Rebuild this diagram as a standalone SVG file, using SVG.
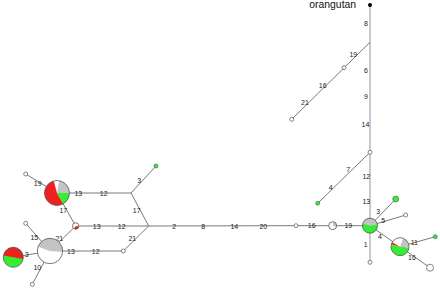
<svg xmlns="http://www.w3.org/2000/svg" width="440" height="288" viewBox="0 0 440 288">
<style>
.e{stroke:#6a6a6a;stroke-width:0.9;fill:none}
.n{fill:#fff;stroke:#666;stroke-width:0.8}
.g{fill:#33ee33;stroke:#555;stroke-width:0.6}
.r{fill:#ee2020}
.gr{fill:#c4c4c4}
.gn{fill:#33ee33}
.o{fill:none;stroke:#555;stroke-width:0.8}
text{font-family:"Liberation Sans",Arial,sans-serif;font-size:7px;fill:#222;text-anchor:middle}
.t{font-size:10.4px;text-anchor:start;fill:#111}
</style>
<rect width="440" height="288" fill="#fff"/>
<g id="connectors">
<line class="e" x1="25.7" y1="174" x2="57" y2="193"/>
<line class="e" x1="57" y1="193" x2="131" y2="193"/>
<line class="e" x1="131" y1="193" x2="156" y2="166"/>
<line class="e" x1="131" y1="193" x2="148.7" y2="226"/>
<line class="e" x1="57" y1="193" x2="75.7" y2="226"/>
<line class="e" x1="75.7" y1="226" x2="148.7" y2="226"/>
<line class="e" x1="75.7" y1="226" x2="50" y2="251"/>
<line class="e" x1="50" y1="251" x2="123.3" y2="251"/>
<line class="e" x1="123.3" y1="251" x2="148.7" y2="226"/>
<line class="e" x1="25.7" y1="223.3" x2="50" y2="251"/>
<line class="e" x1="13.3" y1="257.3" x2="50" y2="251"/>
<line class="e" x1="32.3" y1="284.3" x2="50" y2="251"/>
<line class="e" x1="148.7" y1="226" x2="296" y2="225.7"/>
<line class="e" x1="296" y1="225.7" x2="370" y2="225.7"/>
<line class="e" x1="370" y1="5" x2="370" y2="262.3" style="stroke:#888"/>
<line class="e" x1="370" y1="42.3" x2="291.7" y2="119.3"/>
<line class="e" x1="370" y1="152.3" x2="317.7" y2="203.3"/>
<line class="e" x1="370" y1="225.7" x2="395.7" y2="199"/>
<line class="e" x1="370" y1="225.7" x2="405.7" y2="215"/>
<line class="e" x1="370" y1="225.7" x2="400" y2="246.7"/>
<line class="e" x1="400" y1="246.7" x2="435.3" y2="236.7"/>
<line class="e" x1="400" y1="246.7" x2="430" y2="267.7"/>
</g>
<g id="labels">
<text x="37.7" y="185.8">19</text>
<text x="78.3" y="195.5">13</text>
<text x="103.7" y="195.5">12</text>
<text x="139.3" y="182.5">3</text>
<text x="136.7" y="212.5">17</text>
<text x="63.3" y="212.5">17</text>
<text x="96.7" y="228.5">13</text>
<text x="121.7" y="228.5">12</text>
<text x="59.3" y="240.8">21</text>
<text x="71" y="253.5">13</text>
<text x="95.7" y="253.5">12</text>
<text x="132.3" y="240.8">21</text>
<text x="34.3" y="240.2">15</text>
<text x="26.7" y="256.8">3</text>
<text x="37.3" y="269.8">10</text>
<text x="174.3" y="228.5">2</text>
<text x="203.3" y="228.5">8</text>
<text x="234.3" y="228.5">14</text>
<text x="263.3" y="228.5">20</text>
<text x="311.7" y="228.2">16</text>
<text x="348.3" y="228.2">19</text>
<text x="366" y="25.8">8</text>
<text x="366" y="72.5">6</text>
<text x="366" y="99.2">9</text>
<text x="365.5" y="126.8">14</text>
<text x="366.3" y="179.2">12</text>
<text x="366.3" y="203.5">13</text>
<text x="365.7" y="246.5">1</text>
<text x="353.3" y="56.8">19</text>
<text x="322.7" y="88.2">16</text>
<text x="305" y="105.2">21</text>
<text x="348.3" y="171.8">7</text>
<text x="330.7" y="189.8">4</text>
<text x="378.3" y="214.2">3</text>
<text x="383.3" y="222.5">5</text>
<text x="380" y="239.2">4</text>
<text x="414.3" y="244.8">11</text>
<text x="412" y="259.8">16</text>
<text class="t" x="309.3" y="8">orangutan</text>
</g>
<g id="orangutan"><circle cx="370" cy="5" r="2" fill="#000"/></g>
<g id="pieA">
<circle cx="57" cy="193" r="12.5" fill="#fff"/>
<path class="r" d="M57,193 L63.25,203.83 A12.5,12.5 0 1 1 53.76,180.93 Z"/>
<path class="gr" d="M57,193 L59.17,180.69 A12.5,12.5 0 0 1 69.5,193 Z"/>
<path class="gn" d="M57,193 L69.5,193 A12.5,12.5 0 0 1 63.25,203.83 Z"/>
<circle class="o" cx="57" cy="193" r="12.5"/>
</g>
<g id="pieB">
<circle cx="50" cy="251" r="12.7" fill="#fff"/>
<path class="gr" d="M50,251 L38.07,246.66 A12.7,12.7 0 0 1 62.65,252.11 Z"/>
<circle class="o" cx="50" cy="251" r="12.7"/>
</g>
<g id="pieC">
<circle cx="13.3" cy="257.3" r="10" class="gn"/>
<path class="r" d="M13.3,257.3 L3.45,255.56 A10,10 0 0 1 23.15,259.04 Z"/>
<circle class="o" cx="13.3" cy="257.3" r="10"/>
</g>
<g id="pieD">
<circle cx="370" cy="225.7" r="7.5" class="gn"/>
<path class="gr" d="M370,225.7 L362.76,223.76 A7.5,7.5 0 0 1 377.39,224.4 Z"/>
<circle class="o" cx="370" cy="225.7" r="7.5"/>
</g>
<g id="pieE">
<circle cx="400" cy="246.7" r="9" fill="#fff"/>
<path class="gn" d="M400,246.7 L408.97,247.48 A9,9 0 1 1 391.31,244.37 Z"/>
<path class="r" d="M400,246.7 L391.31,244.37 A9,9 0 0 1 392.21,242.2 Z"/>
<path class="gr" d="M400,246.7 L403.08,238.24 A9,9 0 0 1 408.97,247.48 Z"/>
<circle class="o" cx="400" cy="246.7" r="9"/>
</g>
<g id="pieF">
<circle cx="332.7" cy="225.7" r="4" fill="#fff"/>
<path class="gr" d="M332.7,225.7 L333.39,221.76 A4,4 0 0 1 336.46,227.07 Z"/>
<circle class="o" cx="332.7" cy="225.7" r="4"/>
</g>
<g id="pieG">
<circle cx="75.7" cy="226" r="3.2" fill="#fff"/>
<path class="r" d="M75.7,226 L78.85,226.56 A3.2,3.2 0 0 1 74.1,228.77 Z"/>
<circle class="o" cx="75.7" cy="226" r="3.2"/>
</g>
<g id="n1"><circle class="n" cx="25.7" cy="174" r="2"/></g>
<g id="n2"><circle class="n" cx="25.7" cy="223.3" r="2"/></g>
<g id="n3"><circle class="n" cx="32.3" cy="284.3" r="2"/></g>
<g id="n4"><circle class="n" cx="123.3" cy="251" r="2"/></g>
<g id="n5"><circle class="n" cx="296" cy="225.7" r="2"/></g>
<g id="n6"><circle class="n" cx="344" cy="67.7" r="2"/></g>
<g id="n7"><circle class="n" cx="291.7" cy="119.3" r="2"/></g>
<g id="n8"><circle class="n" cx="370" cy="152.3" r="2"/></g>
<g id="n9"><circle class="n" cx="405.7" cy="215" r="2"/></g>
<g id="n10"><circle class="n" cx="370" cy="262.3" r="2"/></g>
<g id="n11"><circle class="n" cx="430" cy="267.7" r="3.5"/></g>
<g id="g1"><circle class="g" cx="156" cy="166" r="2"/></g>
<g id="g2"><circle class="g" cx="317.7" cy="203.3" r="2"/></g>
<g id="g3"><circle class="g" cx="435.3" cy="236.7" r="2"/></g>
<g id="g4"><circle class="g" cx="395.7" cy="199" r="3"/></g>
</svg>
